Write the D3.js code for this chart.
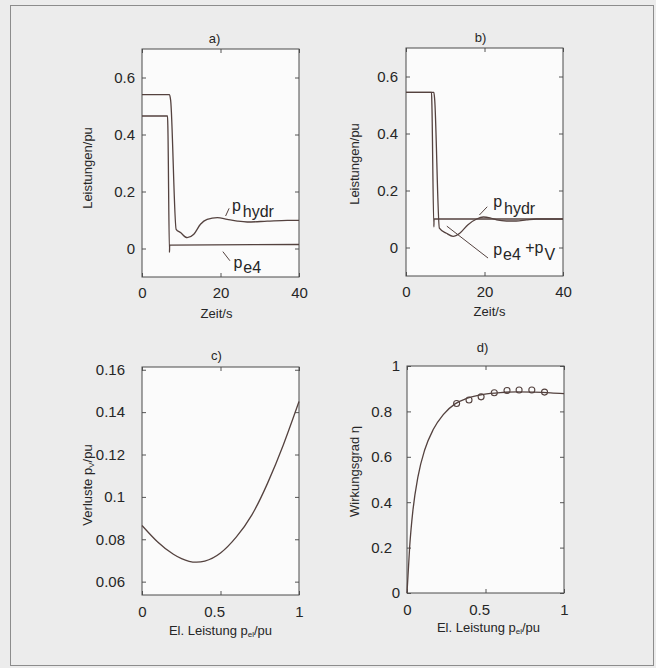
<!DOCTYPE html>
<html lang="de">
<head>
<meta charset="UTF-8">
<title>Leistungen und Wirkungsgrad</title>
<style>
  body { margin: 0; background: #ececec; }
  svg { display: block; font-family: "Liberation Sans", Arial, sans-serif; }
</style>
</head>
<body>
<svg id="chart" width="656" height="668"></svg>
<script src="https://cdn.jsdelivr.net/npm/d3@7/dist/d3.min.js"></script>
<script>
// ---- a) Zeitverlauf, p_hydr und p_e4
var tHydrA = [0, 7.0, 7.3, 8.7, 9.8, 11.5, 13.2, 14.9, 16.6, 19.2, 21.7, 24.3, 26.8, 31.9, 37.0, 40];
var pHydrA = [0.54, 0.54, 0.52, 0.067, 0.056, 0.038, 0.05, 0.085, 0.102, 0.108, 0.102, 0.096, 0.093, 0.096, 0.099, 0.099];
var tE4A = [0, 6.5, 6.6, 7.0, 7.05, 40];
var pE4A = [0.465, 0.465, 0.42, -0.014, 0.012, 0.014];

// ---- b) Zeitverlauf, p_hydr und p_e4 + p_V
var tHydrB = [0, 7.1, 7.3, 8.5, 10.3, 12.0, 13.7, 15.8, 18.0, 19.7, 21.4, 23.1, 25.6, 28.1, 30.7, 33.2, 40];
var pHydrB = [0.544, 0.544, 0.52, 0.068, 0.05, 0.039, 0.05, 0.08, 0.1, 0.107, 0.104, 0.097, 0.093, 0.093, 0.097, 0.1, 0.1];
var tSumB = [0, 6.5, 6.6, 7.1, 7.15, 40];
var pSumB = [0.544, 0.544, 0.5, 0.072, 0.1, 0.1];

// ---- c) Verluste ueber el. Leistung
var pelC = [0, 0.1, 0.2, 0.3, 0.4, 0.5, 0.6, 0.7, 0.8, 0.9, 1.0];
var pvC = [0.0865, 0.0787, 0.0729, 0.0696, 0.0697, 0.0735, 0.0810, 0.0915, 0.1065, 0.1245, 0.1450];

// ---- d) Wirkungsgrad, Kurve und Messpunkte
var pelD = [0, 0.017, 0.038, 0.07, 0.113, 0.167, 0.231, 0.306, 0.38, 0.487, 0.594, 0.70, 0.808, 0.915, 1.0];
var etaD = [0, 0.204, 0.366, 0.513, 0.631, 0.72, 0.786, 0.833, 0.857, 0.875, 0.883, 0.886, 0.885, 0.882, 0.878];
var pelMess = [0.316, 0.395, 0.472, 0.556, 0.637, 0.714, 0.795, 0.876];
var etaMess = [0.835, 0.85, 0.864, 0.882, 0.892, 0.894, 0.894, 0.885];

var ticksZeit = [0, 20, 40];
var ticksLeist = [0, 0.2, 0.4, 0.6];
var ticksPel = [0, 0.5, 1];
var ticksVerl = [0.06, 0.08, 0.1, 0.12, 0.14, 0.16];
var ticksEta = [0, 0.2, 0.4, 0.6, 0.8, 1];

var lineCol = '#54423f';
var textCol = '#262626';
var svg = d3.select('#chart');

// Rahmen um die ganze Abbildung
svg.append('rect')
  .attr('x', 10.5).attr('y', 5.5).attr('width', 643).attr('height', 660)
  .attr('fill', 'none').attr('stroke', '#8c8c8c');

function zip(xs, ys) { return xs.map((d, i) => [d, ys[i]]); }

function panel(cfg) {
  var g = svg.append('g').attr('transform', 'translate(' + cfg.left + ',' + cfg.top + ')');
  var x = d3.scaleLinear().domain(cfg.xDomain).range([0, cfg.w]);
  var y = d3.scaleLinear().domain(cfg.yDomain).range([cfg.h, 0]);

  g.append('rect').attr('width', cfg.w).attr('height', cfg.h).attr('fill', '#fbfbfb');

  var fmt = d => String(d);
  var bx = g.append('g').attr('transform', 'translate(0,' + cfg.h + ')')
    .call(d3.axisBottom(x).tickValues(cfg.xTicks).tickFormat(fmt).tickSize(-4).tickPadding(cfg.xPad));
  g.append('g').call(d3.axisTop(x).tickValues(cfg.xTicks).tickFormat('').tickSize(-4));
  var ly = g.append('g')
    .call(d3.axisLeft(y).tickValues(cfg.yTicks).tickFormat(fmt).tickSize(-4).tickPadding(cfg.yPad));
  g.append('g').attr('transform', 'translate(' + cfg.w + ',0)')
    .call(d3.axisRight(y).tickValues(cfg.yTicks).tickFormat('').tickSize(-4));
  g.selectAll('.domain').remove();
  g.selectAll('.tick line').attr('stroke', '#555');
  g.selectAll('.tick text').attr('fill', textCol).style('font-size', '15px');
  // Dezimalzahlen an der x-Achse sitzen rechtsbuendig am Tick
  bx.selectAll('.tick text').filter(d => String(d).indexOf('.') >= 0)
    .attr('text-anchor', 'end').attr('x', 4);
  if (cfg.yPadInt) {
    ly.selectAll('.tick text').filter(d => Number.isInteger(d)).attr('x', -cfg.yPadInt);
  }

  g.append('rect').attr('width', cfg.w).attr('height', cfg.h)
    .attr('fill', 'none').attr('stroke', '#4a4a4a');

  var line = d3.line().x(d => x(d[0])).y(d => y(d[1])).curve(cfg.curve || d3.curveMonotoneX);
  cfg.series.forEach(s => {
    g.append('path').datum(s).attr('d', line)
      .attr('fill', 'none').attr('stroke', lineCol).attr('stroke-width', 1.3);
  });

  // Titel
  g.append('text').attr('x', cfg.w / 2 + cfg.titleDx).attr('y', cfg.titleY)
    .attr('text-anchor', 'middle').attr('fill', textCol).style('font-size', '13px').text(cfg.title);

  return { g: g, x: x, y: y };
}

function axisTitles(p, cfg) {
  var xt = p.g.append('text').attr('x', cfg.w / 2 + cfg.xtDx).attr('y', cfg.h + cfg.xtY)
    .attr('text-anchor', 'middle').attr('fill', textCol).style('font-size', '13px');
  cfg.xLabel.forEach(part => xt.append('tspan').text(part.t)
    .style('font-size', part.sub ? '8px' : null).attr('dy', part.sub ? 2 : (part.back ? -2 : null)));
  var yt = p.g.append('text')
    .attr('transform', 'translate(' + cfg.ytX + ',' + (cfg.h / 2 + cfg.ytDy) + ') rotate(-90)')
    .attr('text-anchor', 'middle').attr('fill', textCol).style('font-size', '13px');
  cfg.yLabel.forEach(part => yt.append('tspan').text(part.t)
    .style('font-size', part.sub ? '8px' : null).attr('dy', part.sub ? 2 : (part.back ? -2 : null)));
}

function note(p, lead, at, parts) {
  p.g.append('line')
    .attr('x1', p.x(lead[0][0])).attr('y1', p.y(lead[0][1]))
    .attr('x2', p.x(lead[1][0])).attr('y2', p.y(lead[1][1]))
    .attr('stroke', lineCol).attr('stroke-width', 1);
  var t = p.g.append('text').attr('x', p.x(at[0])).attr('y', p.y(at[1]))
    .attr('fill', textCol).style('font-size', '16px');
  parts.forEach(part => t.append('tspan').text(part.t).attr('dy', part.dy || 0).attr('dx', part.dx || 0));
}

// ---------- a)
var cfgA = {
  left: 142, top: 49, w: 157, h: 228, xDomain: [0, 40], yDomain: [-0.1, 0.7],
  xTicks: ticksZeit, yTicks: ticksLeist, xPad: 10, yPad: 7, title: 'a)', titleDx: -6, titleY: -6,
  series: [zip(tHydrA, pHydrA), zip(tE4A, pE4A)]
};
var pa = panel(cfgA);
axisTitles(pa, Object.assign({}, cfgA, { xLabel: [{ t: 'Zeit/s' }], xtDx: -4, xtY: 41,
  yLabel: [{ t: 'Leistungen/pu' }], ytX: -50, ytDy: 5 }));
note(pa, [[21.3, 0.114], [22.2, 0.141]], [22.9, 0.133], [{ t: 'p' }, { t: 'hydr', dy: 6, dx: 2 }]);
note(pa, [[20.6, -0.011], [22.4, -0.043]], [23.3, -0.069], [{ t: 'p' }, { t: 'e4', dy: 5, dx: 1 }]);

// ---------- b)
var cfgB = {
  left: 406, top: 48, w: 157, h: 228, xDomain: [0, 40], yDomain: [-0.1, 0.7],
  xTicks: ticksZeit, yTicks: ticksLeist, xPad: 10, yPad: 8, title: 'b)', titleDx: -4, titleY: -6,
  series: [zip(tHydrB, pHydrB), zip(tSumB, pSumB)]
};
var pb = panel(cfgB);
axisTitles(pb, Object.assign({}, cfgB, { xLabel: [{ t: 'Zeit/s' }], xtDx: 5, xtY: 40,
  yLabel: [{ t: 'Leistungen/pu' }], ytX: -47, ytDy: 2 }));
note(pb, [[18.7, 0.114], [20.7, 0.143]], [22.2, 0.143], [{ t: 'p' }, { t: 'hydr', dy: 7, dx: 2 }]);
note(pb, [[20.9, -0.037], [10.4, 0.075]], [22.2, -0.026],
  [{ t: 'p' }, { t: 'e4', dy: 5, dx: 1 }, { t: ' +p', dy: -7 }, { t: 'V', dy: 7, dx: 1 }]);

// ---------- c)
var cfgC = {
  left: 142, top: 367, w: 157, h: 228, xDomain: [0, 1], yDomain: [0.0537, 0.1613],
  xTicks: ticksPel, yTicks: ticksVerl, xPad: 11, yPad: 17, title: 'c)', titleDx: -4, titleY: -7,
  series: [zip(pelC, pvC)], curve: d3.curveNatural
};
var pc = panel(cfgC);
axisTitles(pc, Object.assign({}, cfgC, {
  xLabel: [{ t: 'El. Leistung p' }, { t: 'el', sub: true }, { t: '/pu', back: true }], xtDx: 0, xtY: 40,
  yLabel: [{ t: 'Verluste p' }, { t: 'V', sub: true }, { t: '/pu', back: true }], ytX: -50, ytDy: 4 }));

// ---------- d)
var cfgD = {
  left: 407, top: 366, w: 157, h: 227, xDomain: [0, 1], yDomain: [0, 1],
  xTicks: ticksPel, yTicks: ticksEta, xPad: 11, yPad: 15, yPadInt: 7, title: 'd)', titleDx: -3, titleY: -14,
  series: [zip(pelD, etaD)]
};
var pd = panel(cfgD);
axisTitles(pd, Object.assign({}, cfgD, {
  xLabel: [{ t: 'El. Leistung p' }, { t: 'el', sub: true }, { t: '/pu', back: true }], xtDx: 3, xtY: 39,
  yLabel: [{ t: 'Wirkungsgrad η' }], ytX: -48, ytDy: -8 }));
pd.g.selectAll('circle.mess').data(zip(pelMess, etaMess)).enter().append('circle')
  .attr('class', 'mess').attr('cx', d => pd.x(d[0])).attr('cy', d => pd.y(d[1])).attr('r', 3)
  .attr('fill', 'none').attr('stroke', lineCol).attr('stroke-width', 1.1);
</script>
</body>
</html>
